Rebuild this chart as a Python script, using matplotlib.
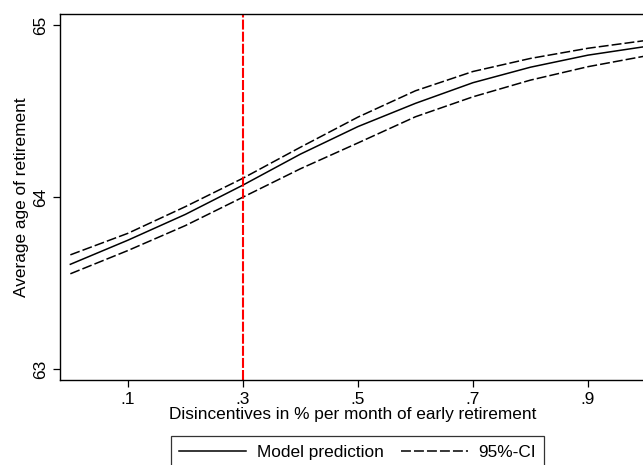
import matplotlib
matplotlib.use("Agg")
import matplotlib.pyplot as plt
from matplotlib.lines import Line2D

# disincentive levels (% per month of early retirement)
disinc = [0.0, 0.1, 0.2, 0.3, 0.4, 0.5, 0.6, 0.7, 0.8, 0.9, 1.0]
# model prediction and 95% CI bounds (average age of retirement)
pred = [63.61, 63.75, 63.90, 64.07, 64.25, 64.41, 64.545, 64.665, 64.755, 64.825, 64.875]
ci_hi = [63.665, 63.79, 63.945, 64.11, 64.29, 64.465, 64.618, 64.73, 64.806, 64.865, 64.91]
ci_lo = [63.555, 63.69, 63.835, 64.00, 64.165, 64.315, 64.467, 64.583, 64.68, 64.758, 64.82]
ref_line = 0.3

xticks = [0.1, 0.3, 0.5, 0.7, 0.9]
xticklabels = [".1", ".3", ".5", ".7", ".9"]
yticks = [63, 64, 65]

plt.rcParams["font.family"] = ["Liberation Sans", "DejaVu Sans"]
FS = 12.4

fig = plt.figure(figsize=(6.43, 4.65), dpi=100)
ax = fig.add_axes([60 / 643, 1 - 380 / 465, 585.5 / 643, 366 / 465])

lw = 1.1
dash = (6.5, 2.0)
ax.plot(disinc, pred, color="black", lw=lw)
ax.plot(disinc, ci_hi, color="black", lw=lw, dashes=dash)
ax.plot(disinc, ci_lo, color="black", lw=lw, dashes=dash)
ax.axvline(ref_line, color="#ff0000", lw=1.5, dashes=(4.8, 1.0))

ax.set_xlim(-0.018, 1.0)
ax.set_ylim(62.938, 65.064)
ax.set_xticks(xticks)
ax.set_xticklabels(xticklabels)
ax.set_yticks(yticks)
ax.set_yticklabels([str(v) for v in yticks], rotation=90, va="center")
ax.tick_params(direction="out", length=5, width=0.9, labelsize=FS, pad=3.5)
for s in ax.spines.values():
    s.set_linewidth(1.0)

ax.set_xlabel("Disincentives in % per month of early retirement", fontsize=FS, labelpad=0)
ax.set_ylabel("Average age of retirement", fontsize=FS, labelpad=3)

handles = [Line2D([], [], color="black", lw=lw),
           Line2D([], [], color="black", lw=lw, dashes=dash)]
leg = fig.legend(handles, ["Model prediction", "95%-CI"], loc="upper center",
                 bbox_to_anchor=(357.5 / 643, 1 - 436 / 465), ncol=2, fontsize=FS,
                 frameon=True, fancybox=False, edgecolor="black", handlelength=3.9,
                 columnspacing=1.0, borderaxespad=0, borderpad=0.5, handletextpad=0.6)
leg.get_frame().set_linewidth(0.9)

fig.savefig("out.png", dpi=100)
